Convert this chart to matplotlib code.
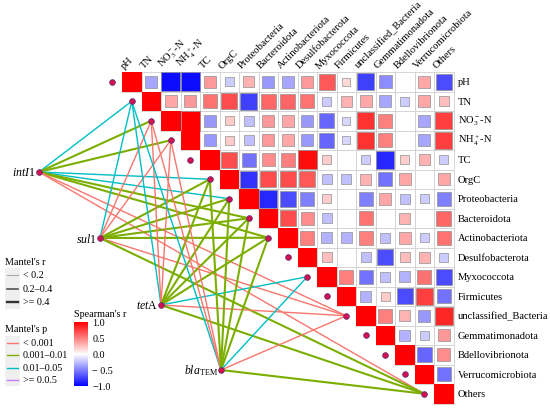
import numpy as np
import matplotlib.pyplot as plt
from matplotlib.patches import Rectangle
from matplotlib import cm, colors

plt.rcParams['font.family'] = 'Liberation Serif'
plt.rcParams['mathtext.fontset'] = 'custom'
plt.rcParams['mathtext.rm'] = 'Liberation Serif'
plt.rcParams['mathtext.it'] = 'Liberation Serif:italic'

nan = np.nan

# variables of the Spearman matrix
variables = ['pH', 'TN', 'NO3-N', 'NH4-N', 'TC', 'OrgC', 'Proteobacteria',
             'Bacteroidota', 'Actinobacteriota', 'Desulfobacterota', 'Myxococcota',
             'Firmicutes', 'unclassified_Bacteria', 'Gemmatimonadota',
             'Bdellovibrionota', 'Verrucomicrobiota', 'Others']
labels = ['pH', 'TN', r'NO$_3^-$-N', r'NH$_4^+$-N', 'TC', 'OrgC', 'Proteobacteria',
          'Bacteroidota', 'Actinobacteriota', 'Desulfobacterota', 'Myxococcota',
          'Firmicutes', 'unclassified_Bacteria', 'Gemmatimonadota',
          'Bdellovibrionota', 'Verrucomicrobiota', 'Others']

# upper triangle (right of the diagonal), NaN = blank cell
r_pH = [-0.35, -0.95, -0.95, 0.4, -0.2, 0.3, -0.4, -0.35, 0.4, 0.65, 0.15, -0.75, -0.45, nan, 0.35, -0.7]
r_TN = [0.35, 0.4, 0.55, 0.7, -0.75, 0.6, 0.6, 0.55, -0.2, 0.3, 0.35, -0.35, -0.2, 0.35, 0.25]
r_NO3 = [1.0, -0.4, 0.2, -0.25, 0.4, 0.35, -0.4, -0.6, -0.15, 0.8, 0.5, nan, -0.35, 0.75]
r_NH4 = [-0.4, 0.2, -0.25, 0.4, 0.35, -0.4, -0.6, -0.15, 0.8, 0.5, nan, -0.35, 0.75]
r_TC = [0.7, -0.55, 0.45, 0.5, 0.95, 0.2, nan, -0.2, -0.85, 0.2, 0.3, -0.2]
r_OrgC = [-0.8, 0.7, 0.7, 0.65, -0.25, -0.25, 0.3, -0.55, 0.35, nan, 0.35]
r_Proteo = [-0.85, -0.7, -0.5, 0.2, nan, -0.5, 0.35, -0.25, -0.2, -0.5]
r_Bacter = [0.7, 0.45, -0.25, nan, 0.55, nan, 0.3, nan, 0.6]
r_Actino = [0.5, -0.3, -0.3, 0.5, -0.25, 0.35, -0.2, 0.55]
r_Desulfo = [0.25, nan, -0.25, -0.7, 0.25, 0.3, -0.2]
r_Myxo = [0.5, -0.55, -0.25, -0.3, 0.55, -0.7]
r_Firm = [-0.3, 0.2, -0.7, 0.75, -0.55]
r_Uncl = [0.5, 0.3, -0.4, 0.85]
r_Gemm = [-0.3, -0.2, 0.4]
r_Bdello = [-0.6, 0.45]
r_Verr = [-0.55]
rows = [r_pH, r_TN, r_NO3, r_NH4, r_TC, r_OrgC, r_Proteo, r_Bacter, r_Actino,
        r_Desulfo, r_Myxo, r_Firm, r_Uncl, r_Gemm, r_Bdello, r_Verr, []]

# Mantel tests: gene -> env variable, p class (0 <0.001, 1 0.001-0.01, 2 0.01-0.05)
genes = ['intI1', 'sul1', 'tetA', 'blaTEM']
gene_labels = [r'$\mathit{intI}$1', r'$\mathit{sul}$1', r'$\mathit{tet}$A', r'$\mathit{bla}_{\rm TEM}$']
mantel_env = ['TN', 'NO3-N', 'NH4-N', 'OrgC', 'Proteobacteria', 'Bacteroidota',
              'Actinobacteriota', 'Myxococcota', 'unclassified_Bacteria', 'Others']
p_intI1 = [2, 1, 1, 2, 2, 1, 1, None, 0, 0]
p_sul1 = [2, 0, 0, 1, 1, 1, 1, None, 0, 1]
p_tetA = [2, 0, 0, 1, 1, 1, 1, 2, 0, 1]
p_blaTEM = [2, 0, 0, 1, 1, 1, 1, 2, 0, 1]
p_all = [p_intI1, p_sul1, p_tetA, p_blaTEM]
# Mantel r class (0 <0.2, 1 0.2-0.4, 2 >=0.4) by p class as drawn
r_class_of_p = [1, 2, 1]

n = len(variables)
M = np.full((n, n), nan)
for i in range(n):
    M[i, i] = 1.0
    for k, v in enumerate(rows[i]):
        M[i, i + 1 + k] = v

p_colors = ['#F8766D', '#7CAE00', '#00BFC4', '#C77CFF']
r_widths = [0.6, 1.0, 1.5]
cmap = plt.get_cmap('bwr')
norm = colors.Normalize(-1, 1)

fig = plt.figure(figsize=(5.5, 4.1), dpi=100)
ax = fig.add_axes([0, 0, 1, 1])
cell = 19.5
x0, y0 = 122, 73
ax.set_xlim((0 - x0) / cell - 0.5, (550 - x0) / cell - 0.5)
ax.set_ylim((410 - y0) / cell - 0.5, (0 - y0) / cell - 0.5)
ax.axis('off')

# matrix cells
for i in range(n):
    for j in range(i, n):
        ax.add_patch(Rectangle((j - 0.5, i - 0.5), 1, 1, fc='white', ec='#d0d0d0', lw=0.6, zorder=2))
for i in range(n):
    for j in range(i, n):
        v = M[i, j]
        if np.isnan(v):
            continue
        if i == j:
            ax.add_patch(Rectangle((j - 0.5, i - 0.5), 1, 1, fc=cmap(norm(v)), ec='none', zorder=3))
        else:
            s = np.sqrt(abs(v))
            ax.add_patch(Rectangle((j - s / 2, i - s / 2), s, s, fc=cmap(norm(v)),
                                   ec='#909090', lw=0.5, zorder=3))

# row labels (right) and column labels (top)
for i in range(n):
    ax.text(n - 0.27, i, labels[i], ha='left', va='center', fontsize=7.6)
    ax.text(i - 0.3, -0.62, labels[i], ha='left', va='bottom', fontsize=7.6,
            rotation=45, rotation_mode='anchor')

# env nodes
env_x = np.arange(n) - 1
env_y = np.arange(n)

# gene nodes
gene_x = [-4.756, -1.628, 1.5, 4.577]
gene_y = [4.628, 8.013, 11.449, 14.782]

for g in range(len(genes)):
    for k, e in enumerate(mantel_env):
        pc = p_all[g][k]
        if pc is None:
            continue
        idx = variables.index(e)
        ax.plot([gene_x[g], env_x[idx]], [gene_y[g], env_y[idx]], color=p_colors[pc],
                lw=r_widths[r_class_of_p[pc]], zorder=1, solid_capstyle='round')

ax.scatter(env_x, env_y, s=17, c='#D1124F', edgecolors='#5a2a78', linewidths=0.5, zorder=4)
ax.scatter(gene_x, gene_y, s=17, c='#D1124F', edgecolors='#5a2a78', linewidths=0.5, zorder=4)
for g in range(len(genes)):
    ax.text(gene_x[g] - 0.17, gene_y[g], gene_labels[g], ha='right', va='center', fontsize=8.5)

# legends in pixel coordinates
lg = fig.add_axes([0, 0, 1, 1], facecolor='none')
lg.set_xlim(0, 550)
lg.set_ylim(410, 0)
lg.axis('off')

lg.text(5, 263, "Mantel's r", ha='left', va='center', fontsize=7.3)
r_keys = ['< 0.2', '0.2\u20130.4', '>= 0.4']
r_key_cols = ['#a8a8a8', '#555555', '#333333']
for k, t in enumerate(r_keys):
    y = 276 + k * 13.5
    lg.add_patch(Rectangle((5, y - 6.75), 15, 13.5, fc='#efefef', ec='none'))
    lg.plot([7, 18], [y, y], color=r_key_cols[k], lw=r_widths[k] + 0.2)
    lg.text(23, y, t, ha='left', va='center', fontsize=7.3)

lg.text(5, 330, "Mantel's p", ha='left', va='center', fontsize=7.3)
p_keys = ['< 0.001', '0.001\u20130.01', '0.01\u20130.05', '>= 0.0.5']
for k, t in enumerate(p_keys):
    y = 343.5 + k * 12.5
    lg.add_patch(Rectangle((5, y - 6.25), 15, 12.5, fc='#efefef', ec='none'))
    lg.plot([7, 18], [y, y], color=p_colors[k], lw=1.0)
    lg.text(23, y, t, ha='left', va='center', fontsize=7.3)

lg.text(74, 315, "Spearman's r", ha='left', va='center', fontsize=7.3)
cax = fig.add_axes([74 / 550, (410 - 387) / 410, 14 / 550, 64 / 410])
cb = fig.colorbar(cm.ScalarMappable(norm=norm, cmap=cmap), cax=cax)
cb.set_ticks([-1, -0.5, 0, 0.5, 1])
cb.set_ticklabels(['\u22121.0', '\u2212 0.5', '0.0', '0.5', '1.0'])
cb.ax.tick_params(labelsize=7.3, length=0, pad=3)
cb.outline.set_visible(False)

fig.savefig('out.png', dpi=100)
